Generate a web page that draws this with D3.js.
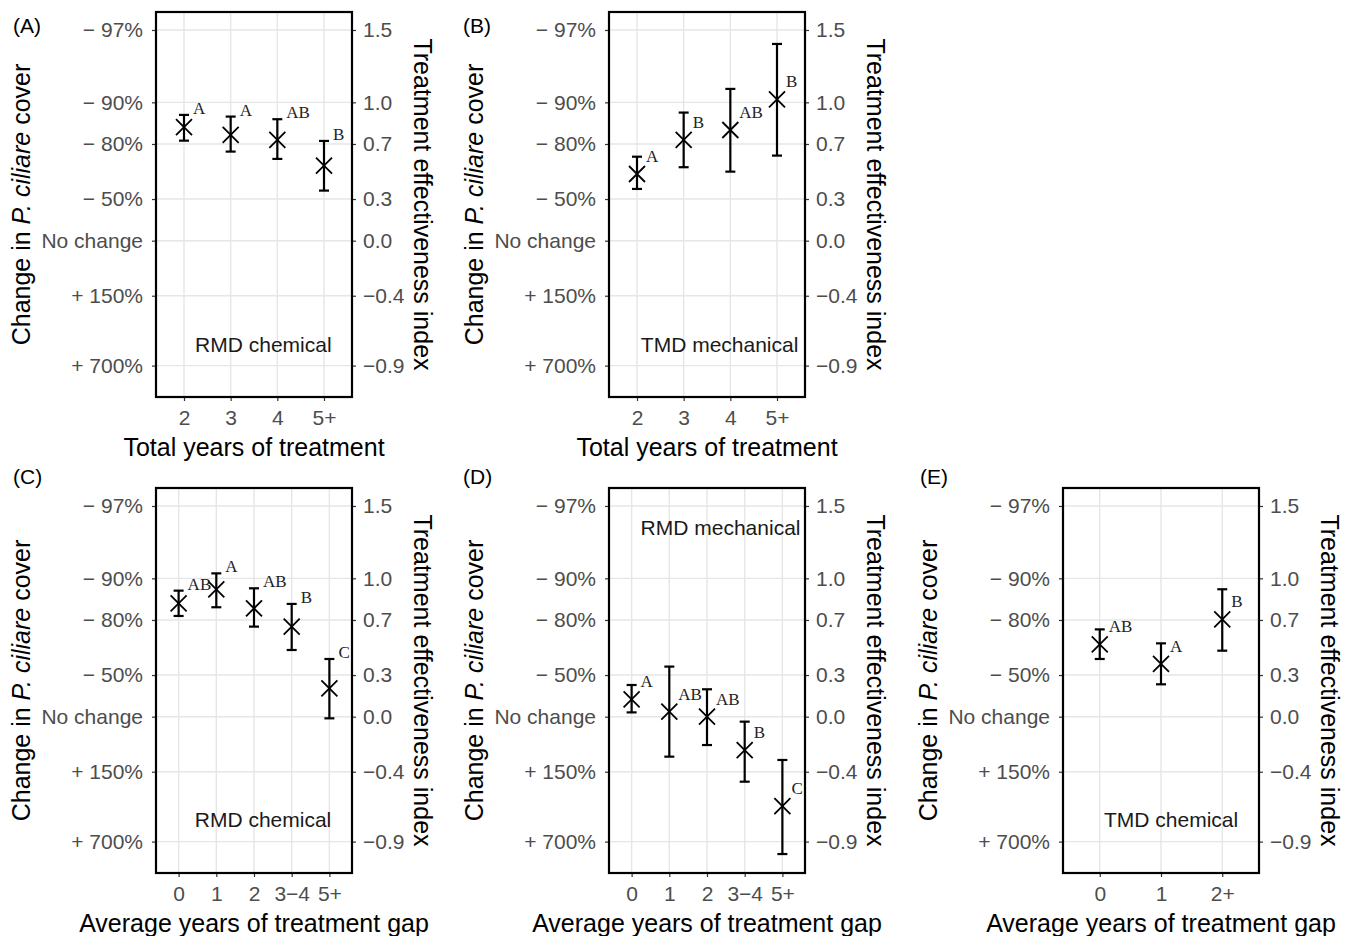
<!DOCTYPE html>
<html>
<head>
<meta charset="utf-8">
<script src="https://cdn.jsdelivr.net/npm/d3@7"></script>
<style>
  body { margin: 0; background: #fff; }
  svg { font-family: "Liberation Sans", Arial, sans-serif; }
</style>
</head>
<body>
<div id="chart"></div>
<script>
// categories
const totalYears = ["2", "3", "4", "5+"];
const gapRMD = ["0", "1", "2", "3\u22124", "5+"];
const gapTMD = ["0", "1", "2+"];

// treatment effectiveness index (mean, lower, upper) + letters
const aMean = [0.820, 0.764, 0.728, 0.542];
const aLo = [0.723, 0.644, 0.591, 0.362];
const aHi = [0.909, 0.897, 0.878, 0.721];
const aLetters = ["A", "A", "AB", "B"];

const bMean = [0.482, 0.728, 0.800, 1.022];
const bLo = [0.374, 0.531, 0.499, 0.615];
const bHi = [0.607, 0.926, 1.097, 1.422];
const bLetters = ["A", "B", "AB", "B"];

const cMean = [0.819, 0.921, 0.783, 0.651, 0.205];
const cLo = [0.728, 0.791, 0.651, 0.482, -0.012];
const cHi = [0.911, 1.036, 0.928, 0.815, 0.417];
const cLetters = ["AB", "A", "AB", "B", "C"];

const dMean = [0.125, 0.036, 0.0, -0.241, -0.646];
const dLo = [0.031, -0.289, -0.205, -0.470, -0.993];
const dHi = [0.229, 0.362, 0.198, -0.036, -0.313];
const dLetters = ["A", "AB", "AB", "B", "C"];

const eMean = [0.523, 0.381, 0.704];
const eLo = [0.417, 0.234, 0.477];
const eHi = [0.631, 0.530, 0.921];
const eLetters = ["AB", "A", "B"];

// axis ticks
const tickValues = [1.523, 1, 0.699, 0.301, 0, -0.398, -0.903];
const leftLabels = ["\u2212 97%", "\u2212 90%", "\u2212 80%", "\u2212 50%", "No change", "+ 150%", "+ 700%"];
const rightLabels = ["1.5", "1.0", "0.7", "0.3", "0.0", "\u22120.4", "\u22120.9"];

const W = 1353, H = 936;
const pw = 196, ph = 385;

const panels = [
  { tag: "(A)", left: 156, top: 12, tagX: 13, tagY: 33, cats: totalYears, mean: aMean, lo: aLo, hi: aHi, letters: aLetters,
    xTitle: "Total years of treatment", note: "RMD chemical", noteAt: [1.70, -0.754], anchor: "hi" },
  { tag: "(B)", left: 609, top: 12, tagX: 463, tagY: 33, cats: totalYears, mean: bMean, lo: bLo, hi: bHi, letters: bLetters,
    xTitle: "Total years of treatment", note: "TMD mechanical", noteAt: [1.77, -0.754], anchor: "mean" },
  { tag: "(C)", left: 156, top: 488, tagX: 13, tagY: 484, cats: gapRMD, mean: cMean, lo: cLo, hi: cHi, letters: cLetters,
    xTitle: "Average years of treatment gap", note: "RMD chemical", noteAt: [2.24, -0.747], anchor: "hi" },
  { tag: "(D)", left: 609, top: 488, tagX: 463, tagY: 484, cats: gapRMD, mean: dMean, lo: dLo, hi: dHi, letters: dLetters,
    xTitle: "Average years of treatment gap", note: "RMD mechanical", noteAt: [2.36, 1.364], anchor: "mean" },
  { tag: "(E)", left: 1063, top: 488, tagX: 920, tagY: 484, cats: gapTMD, mean: eMean, lo: eLo, hi: eHi, letters: eLetters,
    xTitle: "Average years of treatment gap", note: "TMD chemical", noteAt: [1.165, -0.747], anchor: "mean" }
];

const svg = d3.select("#chart").append("svg")
  .attr("width", W)
  .attr("height", H);

svg.append("rect").attr("width", W).attr("height", H).attr("fill", "#fff");

const y = d3.scaleLinear().domain([-1.13, 1.653]).range([ph, 0]);

panels.forEach(p => {
  const g = svg.append("g").attr("transform", `translate(${p.left},${p.top})`);
  const x = d3.scalePoint().domain(p.cats).range([0, pw]).padding(0.6);
  const rows = p.cats.map((c, i) => ({ cat: c, mean: p.mean[i], lo: p.lo[i], hi: p.hi[i], letter: p.letters[i] }));

  // grid
  g.selectAll(".hgrid").data(tickValues).enter().append("line")
    .attr("x1", 0).attr("x2", pw)
    .attr("y1", d => y(d)).attr("y2", d => y(d))
    .attr("stroke", "#e6e6e6").attr("stroke-width", 1.4);
  g.selectAll(".vgrid").data(p.cats).enter().append("line")
    .attr("x1", d => x(d)).attr("x2", d => x(d))
    .attr("y1", 0).attr("y2", ph)
    .attr("stroke", "#e6e6e6").attr("stroke-width", 1.4);

  // axes
  const left = g.append("g")
    .call(d3.axisLeft(y).tickValues(tickValues).tickFormat((d, i) => leftLabels[i]).tickSize(4).tickPadding(9));
  const right = g.append("g").attr("transform", `translate(${pw},0)`)
    .call(d3.axisRight(y).tickValues(tickValues).tickFormat((d, i) => rightLabels[i]).tickSize(4).tickPadding(7));
  const bottom = g.append("g").attr("transform", `translate(0,${ph})`)
    .call(d3.axisBottom(x).tickSize(4).tickPadding(9));
  [left, right, bottom].forEach(a => {
    a.select(".domain").remove();
    a.selectAll("line").attr("stroke", "#333").attr("stroke-width", 1.2);
    a.selectAll("text").attr("fill", "#4d4d4d").style("font-size", "21px")
      .style("font-family", "'Liberation Sans', Arial, sans-serif");
  });

  // box
  g.append("rect").attr("width", pw).attr("height", ph)
    .attr("fill", "none").attr("stroke", "#000").attr("stroke-width", 2.2);

  // error bars
  const eb = g.selectAll(".eb").data(rows).enter().append("g");
  eb.append("line")
    .attr("x1", d => x(d.cat)).attr("x2", d => x(d.cat))
    .attr("y1", d => y(d.lo)).attr("y2", d => y(d.hi));
  eb.append("line")
    .attr("x1", d => x(d.cat) - 5).attr("x2", d => x(d.cat) + 5)
    .attr("y1", d => y(d.lo)).attr("y2", d => y(d.lo));
  eb.append("line")
    .attr("x1", d => x(d.cat) - 5).attr("x2", d => x(d.cat) + 5)
    .attr("y1", d => y(d.hi)).attr("y2", d => y(d.hi));
  eb.selectAll("line").attr("stroke", "#000").attr("stroke-width", 2.2);

  // x marks
  const s = 8;
  const mk = g.selectAll(".mk").data(rows).enter().append("path")
    .attr("d", d => {
      const cx = x(d.cat), cy = y(d.mean);
      return `M${cx - s},${cy - s}L${cx + s},${cy + s}M${cx - s},${cy + s}L${cx + s},${cy - s}`;
    })
    .attr("stroke", "#000").attr("stroke-width", 1.8).attr("fill", "none");

  // letters
  g.selectAll(".lt").data(rows).enter().append("text")
    .attr("x", d => x(d.cat) + 9)
    .attr("y", d => p.anchor === "hi" ? y(d.hi) - 1 : y(d.mean) - 12)
    .text(d => d.letter)
    .style("font-family", "'Liberation Serif', 'Times New Roman', serif")
    .style("font-size", "17px")
    .attr("fill", "#222");

  // note
  const step = x.step();
  g.append("text")
    .attr("x", x(p.cats[0]) + p.noteAt[0] * step)
    .attr("y", y(p.noteAt[1]))
    .attr("dy", "0.35em")
    .attr("text-anchor", "middle")
    .style("font-size", "21px")
    .attr("fill", "#1a1a1a")
    .text(p.note);

  // titles
  const lt = g.append("text")
    .attr("transform", `translate(${-126},${ph / 2}) rotate(-90)`)
    .attr("text-anchor", "middle")
    .style("font-size", "25px")
    .attr("fill", "#000");
  lt.append("tspan").text("Change in ");
  lt.append("tspan").style("font-style", "italic").text("P. ciliare");
  lt.append("tspan").text(" cover");

  g.append("text")
    .attr("transform", `translate(${pw + 62},${ph / 2}) rotate(90)`)
    .attr("text-anchor", "middle")
    .style("font-size", "25px")
    .attr("fill", "#000")
    .text("Treatment effectiveness index");

  g.append("text")
    .attr("x", pw / 2).attr("y", ph + 59)
    .attr("text-anchor", "middle")
    .style("font-size", "25px")
    .attr("fill", "#000")
    .text(p.xTitle);

  svg.append("text")
    .attr("x", p.tagX).attr("y", p.tagY)
    .style("font-size", "21px")
    .attr("fill", "#000")
    .text(p.tag);
});
</script>
</body>
</html>
